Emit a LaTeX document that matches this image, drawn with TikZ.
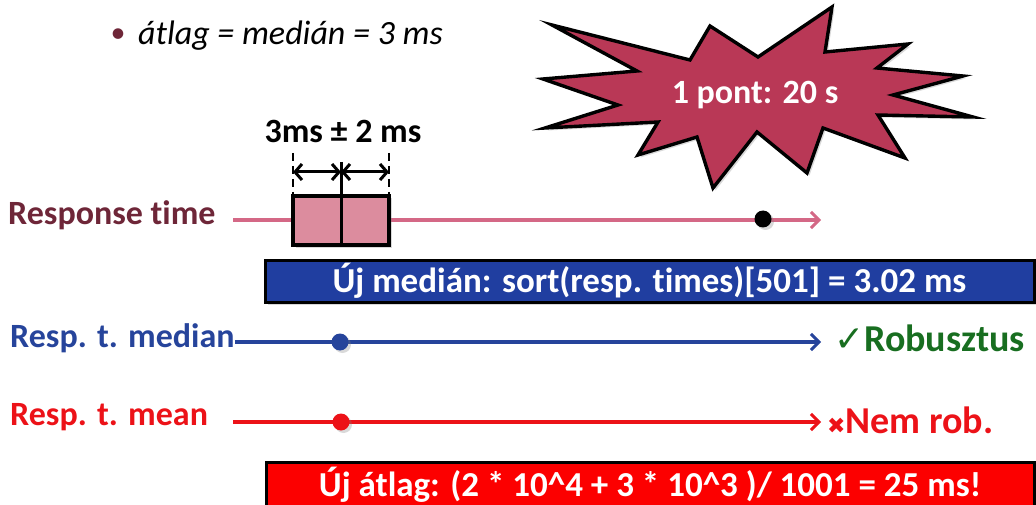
\documentclass[tikz,border=0pt]{standalone}
\usepackage{fontspec}
\setmainfont{Carlito}[Ligatures=NoCommon]
\newfontfamily\symfont{DejaVu Sans}
\usetikzlibrary{arrows.meta,shadows}

\definecolor{maroon}{RGB}{110,38,56}
\definecolor{rosel}{RGB}{212,104,134}
\definecolor{rosebox}{RGB}{220,140,158}
\definecolor{burst}{RGB}{185,56,86}
\definecolor{medblue}{RGB}{38,68,155}
\definecolor{bannerblue}{RGB}{32,62,160}
\definecolor{robgreen}{RGB}{24,110,32}
\definecolor{meanred}{RGB}{236,18,24}
\definecolor{bannerred}{RGB}{252,0,0}

\tikzset{
  big/.style={font=\fontsize{34}{40}\selectfont\bfseries, inner sep=0pt},
  verdict/.style={font=\fontsize{38}{44}\selectfont\bfseries, inner sep=0pt},
  timeline/.style={line width=3.2pt, -{Straight Barb[length=8pt,width=16pt,line width=3pt]}},
  softshadow/.style={drop shadow={opacity=0.3, shadow xshift=2.5pt, shadow yshift=-2.5pt}},
  banner/.style={draw=black, line width=3pt, text=white, softshadow,
    font=\fontsize{35}{40}\selectfont\bfseries, inner sep=0pt},
  marker/.style={circle, inner sep=0pt, minimum size=17pt, softshadow},
  dimline/.style={line width=3pt, {Straight Barb[length=7pt,width=16pt]}-{Straight Barb[length=7pt,width=16pt]}},
  dashmark/.style={line width=2.8pt, dash pattern=on 8pt off 5pt},
}

\begin{document}
\begin{tikzpicture}[x=1pt,y=-1pt]
\useasboundingbox (0,0) rectangle (1036,505);

% bullet line
\node[text=maroon, font=\fontsize{30}{36}\selectfont, inner sep=0pt] (bullet) at (118,36) {•};
\node[anchor=west, font=\fontsize{34}{40}\selectfont\itshape, inner sep=0pt] (avg) at (138,36) {átlag = medián = 3 ms};

% starburst
\draw[fill=burst, line width=3.4pt, line join=miter, softshadow]
  (552,25) -- (690,60) -- (710,26) -- (758,57) -- (832,7) -- (825,52)
  -- (908,44) -- (877,68) -- (963,76) -- (893,95) -- (973,117) -- (878,115)
  -- (905,158) -- (823,128) -- (807,173) -- (757,132) -- (713,188)
  -- (697,137) -- (638,155) -- (658,122) -- (545,128) -- (618,105)
  -- (543,79) -- (637,71) -- cycle;
\node[text=white, font=\fontsize{34}{40}\selectfont\bfseries, inner sep=0pt] (point) at (755,95) {1 pont: 20 s};

% response time row
\node[big, anchor=west, text=maroon] (rlabel) at (8,215) {Response time};
\coordinate (rstart) at (233,220);
\coordinate (rend) at (821,220);
\draw[timeline, rosel] (rstart) -- (rend);
\node[draw=black, fill=rosebox, line width=3.4pt, minimum width=96pt, minimum height=49pt,
      inner sep=0pt, softshadow] (box) at (341,220.5) {};
\node[marker, fill=black] (rdot) at (763,219) {};

% spread marks above the box
\node[big] (spread) at (343,131) {3ms ± 2 ms};
\coordinate (dl) at (293,153);
\coordinate (dr) at (389,153);
\coordinate (mt) at (341,162);
\draw[dashmark] (dl) -- (dl |- box.north);
\draw[dashmark] (dr) -- (dr |- box.north);
\draw[line width=3pt] (mt) -- (mt |- box.south);
\draw[dimline] (dl |- 0,172) -- (mt |- 0,172);
\draw[dimline] (mt |- 0,172) -- (dr |- 0,172);

% new median banner
\node[banner, fill=bannerblue, minimum width=769pt, minimum height=42pt] (medbanner) at (649.5,281)
  {Új medián: sort(resp. times)[501] = 3.02 ms};

% median row
\node[big, anchor=west, text=medblue] (mlabel) at (10,338) {Resp. t. median};
\coordinate (mend) at (821,342);
\draw[timeline, medblue] (mlabel.east |- mend) -- (mend);
\node[marker, fill=medblue] (mdot) at (340,342) {};
\node[verdict, anchor=west, text=robgreen] (robust) at (834,338)
  {{\symfont\bfseries\fontsize{36}{40}\selectfont ✓}Robusztus};

% mean row
\node[big, anchor=west, text=meanred] (alabel) at (10,417) {Resp. t. mean};
\coordinate (astart) at (233,422);
\coordinate (aend) at (821,422);
\draw[timeline, meanred] (astart) -- (aend);
\node[marker, fill=meanred] (adot) at (341,422) {};
\node[verdict, anchor=west, text=meanred] (notrob) at (827,420)
  {{\symfont\bfseries\fontsize{22}{26}\selectfont ✖}Nem rob.};

% new mean banner
\node[banner, fill=bannerred, minimum width=768pt, minimum height=46pt] (meanbanner) at (650,485)
  {Új átlag: (2 * 10\^{}4 + 3 * 10\^{}3 )/ 1001 = 25 ms!};
\end{tikzpicture}
\end{document}
